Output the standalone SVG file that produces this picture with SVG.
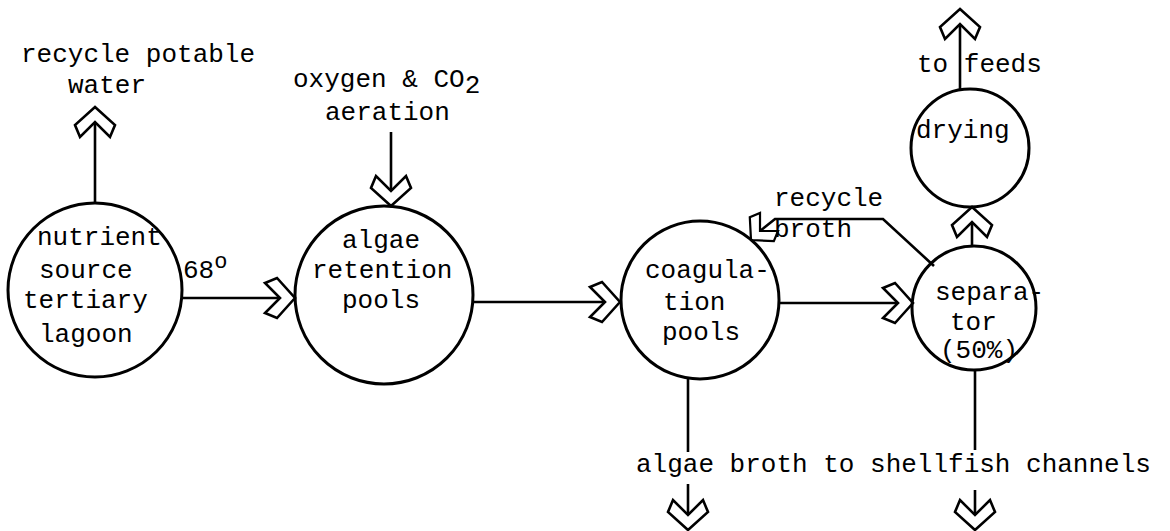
<svg xmlns="http://www.w3.org/2000/svg" width="1170" height="531" viewBox="0 0 1170 531">
<style>
  .node{fill:none;stroke:#000;stroke-width:3}
  .ln{fill:none;stroke:#000;stroke-width:2.6;stroke-linejoin:miter}
  .hd{fill:#fff;stroke:#000;stroke-width:2.6;stroke-linejoin:miter}
  text{font-family:"Liberation Mono","DejaVu Sans Mono",monospace;font-size:26px;fill:#000}
</style>
<defs>
  <path id="chev" class="hd" d="M0,0 L20,18 L15,30 L0,15 L-15,30 L-20,18 Z"/>
</defs>
<rect width="1170" height="531" fill="#fff"/>

<g id="connectors">
  <line class="ln" x1="95" y1="203" x2="95" y2="122"/>
  <use href="#chev" transform="translate(95,107)"/>

  <line class="ln" x1="182" y1="298" x2="280" y2="298"/>
  <use href="#chev" transform="translate(295,298) rotate(90)"/>

  <line class="ln" x1="391" y1="132" x2="391" y2="190"/>
  <use href="#chev" transform="translate(391,206) rotate(180)"/>

  <line class="ln" x1="473" y1="302" x2="605" y2="302"/>
  <use href="#chev" transform="translate(620,302) rotate(90)"/>

  <line class="ln" x1="780" y1="303" x2="898" y2="303"/>
  <use href="#chev" transform="translate(913,303) rotate(90)"/>

  <polyline class="ln" points="934,266 883,219 775,219 760,231"/>
  <use href="#chev" transform="translate(751,240) rotate(225) scale(0.85)"/>

  <line class="ln" x1="972" y1="247" x2="972" y2="222"/>
  <use href="#chev" transform="translate(972,207)"/>

  <line class="ln" x1="960" y1="90" x2="960" y2="24"/>
  <use href="#chev" transform="translate(960,9)"/>

  <line class="ln" x1="688" y1="377" x2="688" y2="452"/>
  <line class="ln" x1="688" y1="484" x2="688" y2="515"/>
  <use href="#chev" transform="translate(688,530) rotate(180)"/>

  <line class="ln" x1="975" y1="369" x2="975" y2="450"/>
  <line class="ln" x1="975" y1="490" x2="975" y2="515"/>
  <use href="#chev" transform="translate(975,530) rotate(180)"/>
</g>

<g id="labels">
  <text x="21" y="62">recycle potable</text>
  <text x="68" y="93">water</text>
  <text x="293" y="87">oxygen &amp; CO<tspan dy="6">2</tspan></text>
  <text x="325" y="120">aeration</text>
  <text x="183" y="278">68<tspan dy="-10" font-size="22">o</tspan></text>
  <text x="774" y="206">recycle</text>
  <text x="774" y="237">broth</text>
  <text x="917" y="72">to feeds</text>
  <text x="636" y="472">algae broth to shellfish channels</text>
</g>

<g id="nutrient">
  <circle class="node" cx="95" cy="290" r="87"/>
  <text x="37" y="245">nutrient</text>
  <text x="39" y="278">source</text>
  <text x="23" y="308">tertiary</text>
  <text x="39" y="342">lagoon</text>
</g>

<g id="algae">
  <circle class="node" cx="384" cy="295" r="89"/>
  <text x="342" y="248">algae</text>
  <text x="312" y="278">retention</text>
  <text x="342" y="308">pools</text>
</g>

<g id="coagulation">
  <circle class="node" cx="700" cy="300" r="79"/>
  <text x="645" y="278">coagula-</text>
  <text x="663" y="310">tion</text>
  <text x="662" y="340">pools</text>
</g>

<g id="separator">
  <circle class="node" cx="974" cy="308" r="62"/>
  <text x="935" y="300">separa-</text>
  <text x="950" y="330">tor</text>
  <text x="940" y="358">(50%)</text>
</g>

<g id="drying">
  <circle class="node" cx="970" cy="148" r="59"/>
  <text x="916" y="138">drying</text>
</g>
</svg>
